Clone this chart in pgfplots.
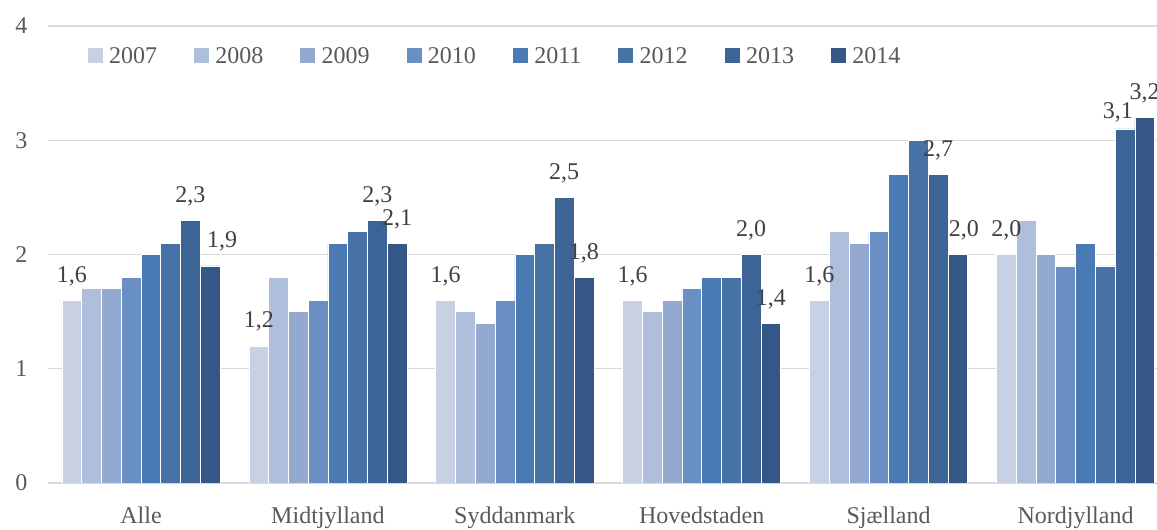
\documentclass[border=0pt]{standalone}
\usepackage{fontspec}
\setmainfont{Liberation Serif}
\usepackage{pgfplots}
\usepackage{pgfplotstable}
\pgfplotsset{compat=1.18}
\definecolor{c1}{HTML}{C8D1E4}
\definecolor{c2}{HTML}{AFBFDB}
\definecolor{c3}{HTML}{94A9D0}
\definecolor{c4}{HTML}{6A8FC3}
\definecolor{c5}{HTML}{4A7AB4}
\definecolor{c6}{HTML}{4672A5}
\definecolor{c7}{HTML}{3C6497}
\definecolor{c8}{HTML}{355785}
\definecolor{gridc}{HTML}{D9D9D9}
\definecolor{tickc}{HTML}{595959}
\definecolor{labc}{HTML}{404040}
\newcommand\f{\fontsize{24}{28}\selectfont}
% x: category index, y: value, dx/dy: label nudges
\pgfplotstableread{
x y dx dy
0 1.6 0 0
1 1.2 0 0
2 1.6 0 0
3 1.6 0 0
4 1.6 0 0
5 2.0 0 0
}\tA
\pgfplotstableread{
x y dx dy
0 2.3 0 0
1 2.3 0 0
2 2.5 0 0
3 2.0 0 0
4 2.7 0 0
5 3.1 -7 -8
}\tG
\pgfplotstableread{
x y dx dy
0 1.9 12 0
1 2.1 0 0
2 1.8 0 0
3 1.4 0 0
4 2.0 6 0
5 3.2 0 0
}\tH
\pgfplotsset{lab/.style={
  visualization depends on={\thisrow{dx} \as \dx},
  visualization depends on={\thisrow{dy}+11 \as \dy},
  nodes near coords={\pgfmathprintnumber[use comma,fixed,fixed zerofill,precision=1]{\pgfplotspointmeta}},
  every node near coord/.append style={font=\f, text=labc, inner sep=3pt, xshift=\dx, yshift=\dy}}}
\begin{document}
\begin{tikzpicture}[x=1pt,y=1pt]
\begin{axis}[
  scale only axis, width=1109pt, height=457pt,
  xmin=-0.4976, xmax=5.436, ymin=0, ymax=4,
  ytick={0,1,2,3,4}, ymajorgrids, grid style={draw=gridc, line width=1.3pt},
  xtick={0,1,2,3,4,5},
  xticklabels={Alle,Midtjylland,Syddanmark,Hovedstaden,Sjælland,Nordjylland},
  major tick length=0pt,
  axis line style={draw=none},
  /pgf/number format/assume math mode=true,
  tick label style={font=\f, text=tickc},
  yticklabel style={anchor=east, xshift=-17pt},
  xticklabel style={anchor=north, yshift=-20pt},
  ybar=0pt, bar width=0.1057,
  legend columns=8,
  legend image code/.code={\draw[#1,draw=none] (0pt,-7pt) rectangle (15pt,8pt); \path (19pt,0pt);},
  legend style={at={(0.0357,0.958)}, anchor=north west, draw=none, fill=none,
    font=\f, text=tickc, inner sep=0pt,
    /tikz/every even column/.append style={column sep=35pt}},
]
\addplot[fill=c1, draw=white, line width=0.6pt, lab] table[x=x,y=y] {\tA};
\addplot[fill=c2, draw=white, line width=0.6pt] coordinates {(0,1.7)(1,1.8)(2,1.5)(3,1.5)(4,2.2)(5,2.3)};
\addplot[fill=c3, draw=white, line width=0.6pt] coordinates {(0,1.7)(1,1.5)(2,1.4)(3,1.6)(4,2.1)(5,2.0)};
\addplot[fill=c4, draw=white, line width=0.6pt] coordinates {(0,1.8)(1,1.6)(2,1.6)(3,1.7)(4,2.2)(5,1.9)};
\addplot[fill=c5, draw=white, line width=0.6pt] coordinates {(0,2.0)(1,2.1)(2,2.0)(3,1.8)(4,2.7)(5,2.1)};
\addplot[fill=c6, draw=white, line width=0.6pt] coordinates {(0,2.1)(1,2.2)(2,2.1)(3,1.8)(4,3.0)(5,1.9)};
\addplot[fill=c7, draw=white, line width=0.6pt, lab] table[x=x,y=y] {\tG};
\addplot[fill=c8, draw=white, line width=0.6pt, lab] table[x=x,y=y] {\tH};
\legend{2007,2008,2009,2010,2011,2012,2013,2014}
\end{axis}
\pgfresetboundingbox
\path[use as bounding box] (-48,-47) rectangle (1109,483);
\end{tikzpicture}
\end{document}
